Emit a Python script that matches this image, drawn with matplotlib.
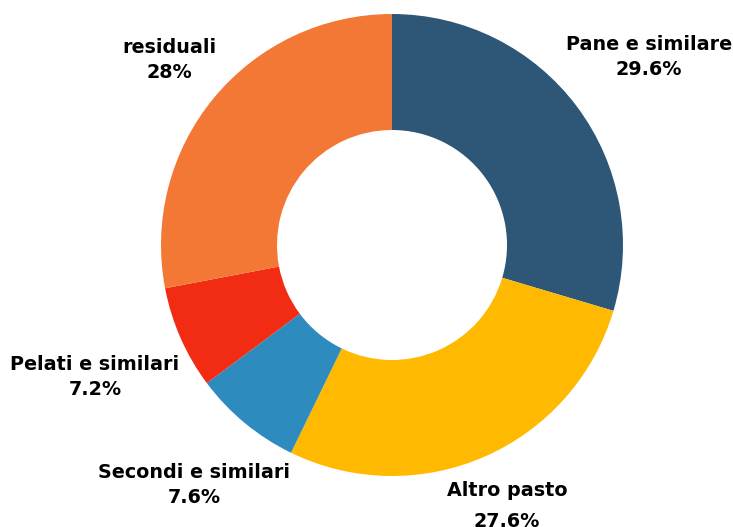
import matplotlib.pyplot as plt

categories = ['Pane e similare', 'Altro pasto', 'Secondi e similari',
              'Pelati e similari', 'residuali']
shares = [29.6, 27.6, 7.6, 7.2, 28.0]
pct_labels = ['29.6%', '27.6%', '7.6%', '7.2%', '28%']
colors = ['#2d5677', '#ffb900', '#2e8bbd', '#f12c13', '#f37735']

# label anchor points in pixel coords (x, y from top)
label_pos = [(649, 57), (507, 506), (194, 485), (95, 377), (169, 60)]

W, H = 733, 527
fig = plt.figure(figsize=(W / 100, H / 100), dpi=100)
ax = fig.add_axes([0, 0, 1, 1])
ax.set_aspect('equal')
ax.axis('off')

ax.pie(shares, colors=colors, center=(392, H - 245), radius=231,
       startangle=90, counterclock=False,
       wedgeprops=dict(width=116, linewidth=0))
ax.set_xlim(0, W)
ax.set_ylim(0, H)

for name, pct, (x, y) in zip(categories, pct_labels, label_pos):
    gap = 1.75 if name == 'Altro pasto' else 1.35
    ax.text(x, H - y, f'{name}\n{pct}', ha='center', va='center',
            fontsize=13.8, fontweight='bold', family='DejaVu Sans',
            linespacing=gap, color='black')

fig.savefig('out.png', dpi=100)
